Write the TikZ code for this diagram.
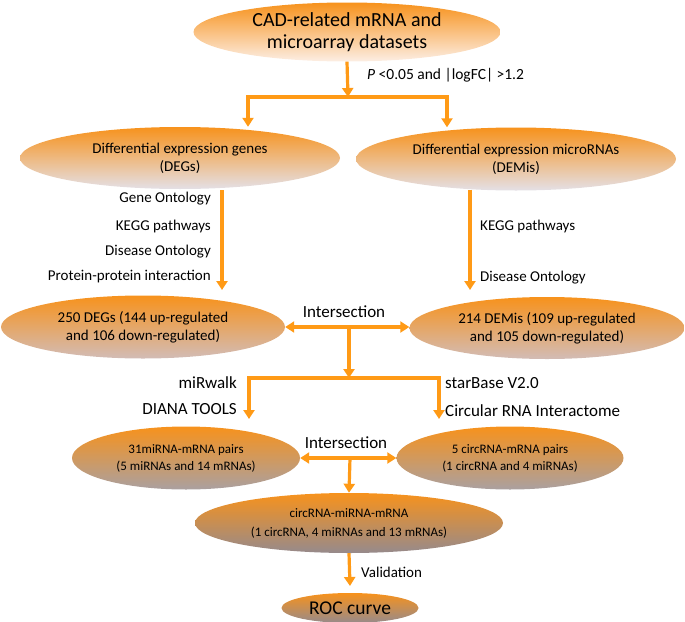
\documentclass[tikz,border=0pt]{standalone}
\usepackage{fontspec}
\setmainfont{Carlito}
\usetikzlibrary{shapes.geometric,arrows.meta}
\definecolor{org}{RGB}{247,146,28}
\definecolor{arrc}{RGB}{255,154,22}
\definecolor{lt1}{RGB}{252,238,228}
\definecolor{lt2}{RGB}{228,224,230}
\definecolor{lt3}{RGB}{210,188,182}
\definecolor{lt4}{RGB}{170,160,160}
\definecolor{lt5}{RGB}{150,138,140}
\begin{document}
\begin{tikzpicture}[x=1pt,y=-1pt,
  ell/.style={ellipse,inner sep=0pt,align=center,draw=none,
    top color=org,middle color=org!80!#1,bottom color=#1},
  lbl/.style={font=\fontsize{15}{18}\selectfont,inner sep=1pt},
  big/.style={font=\fontsize{17}{20}\selectfont,inner sep=1pt},
  conn/.style={draw=arrc,line width=3.2pt,-{Triangle[length=9pt,width=11pt]}},
  dconn/.style={draw=arrc,line width=3.2pt,{Triangle[length=9pt,width=11pt]}-{Triangle[length=9pt,width=11pt]}},
  bar/.style={draw=arrc,line width=3.2pt,line cap=rect}
]
\useasboundingbox (0,0) rectangle (685,621);
% row 1
\node[ell=lt1,minimum width=307pt,minimum height=59pt,font=\fontsize{20}{22}\selectfont] (top) at (347,32) {CAD-related mRNA and\\microarray datasets};
\node[lbl,anchor=west,font=\fontsize{15.5}{18}\selectfont] (pval) at (366,75) {\textit{P} <0.05 and |logFC| >1.2};
\coordinate (s1) at (348,97);
\coordinate (b1l) at (248,97);
\coordinate (b1r) at (447,97);
% row 2
\node[ell=lt2,minimum width=320pt,minimum height=62pt,font=\fontsize{15}{18}\selectfont] (degs) at (180,158) {Differential expression genes\\(DEGs)};
\node[ell=lt2,minimum width=320pt,minimum height=63pt,font=\fontsize{15}{18}\selectfont] (demis) at (516,159) {Differential expression microRNAs\\(DEMis)};
\draw[conn] (top.south) -- (s1);
\draw[bar] (b1l) -- (b1r);
\draw[conn] (b1l) -- (b1l |- degs.north);
\draw[conn] (b1r) -- (b1r |- demis.north);
% labels row 2-3
\node[lbl,anchor=east] (go) at (212,199) {Gene Ontology};
\node[lbl,anchor=east] (kg1) at (212,226) {KEGG pathways};
\node[lbl,anchor=east] (do1) at (212,252) {Disease Ontology};
\node[lbl,anchor=east] (ppi) at (212,277) {Protein-protein interaction};
\node[lbl,anchor=west] (kg2) at (479,226) {KEGG pathways};
\node[lbl,anchor=west] (do2) at (479,278) {Disease Ontology};
% row 3
\node[ell=lt3,minimum width=284pt,minimum height=63pt,font=\fontsize{15}{18}\selectfont] (degs2) at (143,327) {250 DEGs (144 up-regulated\\and 106 down-regulated)};
\node[ell=lt3,minimum width=275pt,minimum height=62pt,font=\fontsize{15}{18}\selectfont] (demis2) at (547,328) {214 DEMis (109 up-regulated\\and 105 down-regulated)};
\coordinate (a1) at (222,190);
\coordinate (e1) at (222,290);
\coordinate (a2) at (470,190);
\coordinate (e2) at (470,290);
\draw[conn] (a1) -- (e1);
\draw[conn] (a2) -- (e2);
\node[big] (int1) at (344,312) {Intersection};
\coordinate (m1) at (349,327);
\draw[dconn] (degs2.east |- m1) -- (demis2.west |- m1);
\coordinate (s2) at (349,378);
\coordinate (b2l) at (249,378);
\coordinate (b2r) at (439,378);
\draw[conn] (m1) -- (s2);
\draw[bar] (b2l) -- (b2r);
\node[big,anchor=east] (mirw) at (238,383) {miRwalk};
\node[big,anchor=east] (diana) at (238,409) {DIANA TOOLS};
\node[big,anchor=west] (starb) at (444,383) {starBase V2.0};
\node[big,anchor=west] (cri) at (444,411) {Circular RNA Interactome};
% row 4
\node[ell=lt4,minimum width=228pt,minimum height=63pt,font=\fontsize{13}{17}\selectfont] (pairs1) at (186,458) {31miRNA-mRNA pairs\\(5 miRNAs and 14 mRNAs)};
\node[ell=lt4,minimum width=227pt,minimum height=63pt,font=\fontsize{13}{17}\selectfont] (pairs2) at (510,458) {5 circRNA-mRNA pairs\\(1 circRNA and 4 miRNAs)};
\coordinate (f1) at (249,419);
\coordinate (f2) at (439,419);
\draw[conn] (b2l) -- (f1);
\draw[conn] (b2r) -- (f2);
\node[big] (int2) at (346,443) {Intersection};
\coordinate (m2) at (350,458);
\draw[dconn] (pairs1.east |- m2) -- (pairs2.west |- m2);
% row 5
\node[ell=lt5,minimum width=308pt,minimum height=60pt,font=\fontsize{13}{19}\selectfont] (net) at (349,523) {circRNA-miRNA-mRNA\\(1 circRNA, 4 miRNAs and 13 mRNAs)};
\draw[conn] (m2) -- (net.north);
\node[ell=lt5,minimum width=137pt,minimum height=30pt,font=\fontsize{19.5}{22}\selectfont] (roc) at (350,608) {ROC curve};
\coordinate (g1) at (350,586);
\draw[conn] (net.south) -- (g1);
\node[lbl,anchor=west] (val) at (360,572) {Validation};
\end{tikzpicture}
\end{document}
